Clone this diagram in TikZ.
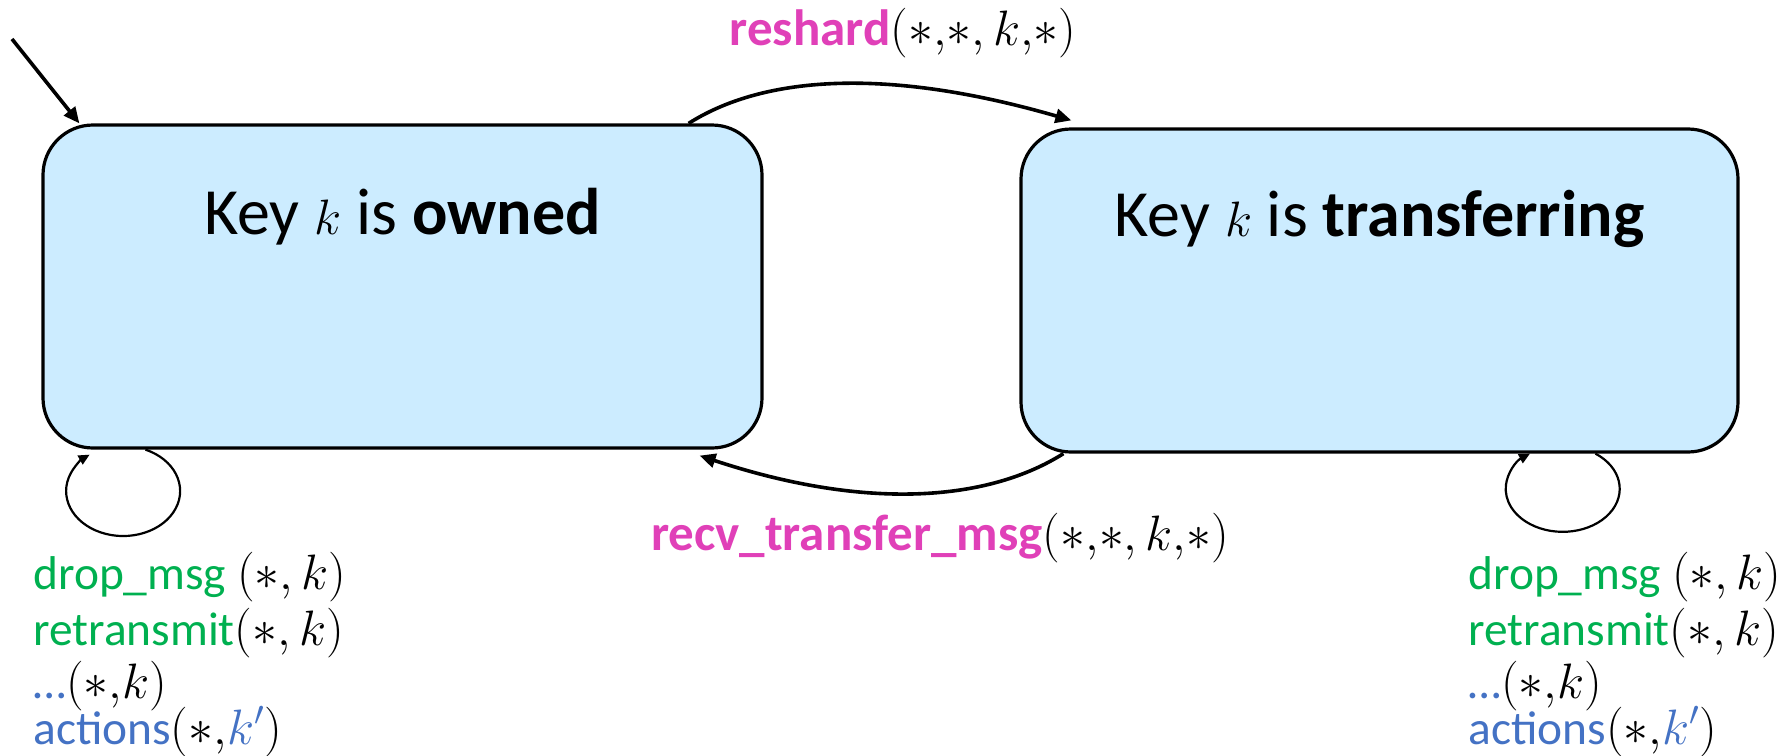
\documentclass[tikz,border=0pt]{standalone}
\usepackage{fontspec}
\setmainfont{Carlito}
\usetikzlibrary{arrows.meta}

\definecolor{statefill}{HTML}{CCECFF}
\definecolor{actpink}{HTML}{E040B8}
\definecolor{actgreen}{HTML}{00B050}
\definecolor{actblue}{HTML}{4472C4}

\tikzset{
  statebox/.style={draw=black, line width=1.6pt, fill=statefill,
    rounded corners=25pt, minimum width=#1, minimum height=161.5pt,
    inner sep=0pt},
  statetext/.style={anchor=base, font=\fontsize{33}{39}\selectfont, inner sep=0pt},
  translabel/.style={anchor=base, font=\fontsize{25.5}{30}\selectfont, inner sep=0pt},
  looplabel/.style={anchor=base west, font=\fontsize{23.7}{28}\selectfont, inner sep=0pt},
  bigarrow/.style={line width=1.8pt, -{Triangle[length=8pt,width=7pt]}},
  looparrow/.style={line width=1.1pt, -{Triangle[length=5.5pt,width=5pt]}},
}

\begin{document}
\begin{tikzpicture}[x=0.5pt, y=-0.5pt]
  \useasboundingbox (0,0) rectangle (1788,755);

  % the two states
  \node[statebox=359.5pt] (own) at (402.5,286.5) {};
  \node[statebox=358.5pt] (xfer) at (1379.5,290.5) {};
  \node[statetext] (ownlbl) at (402.5,234) {Key $k$ is \textbf{owned}};
  \node[statetext] (xferlbl) at (1379.5,236) {Key $k$ is \textbf{transferring}};

  % initial-state arrow
  \coordinate (init) at (12,39);
  \draw[bigarrow] (init) -- ([xshift=19pt]own.north west);

  % transitions between the states
  \draw[bigarrow] ([xshift=-37.5pt]own.north east)
    .. controls (760,78) and (880,65) .. ([xshift=26pt,yshift=3.5pt]xfer.north west);
  \draw[bigarrow] ([xshift=22pt]xfer.south west)
    .. controls (990,500) and (870,512) .. ([xshift=-32pt,yshift=-3pt]own.south east);

  \node[translabel] (reshard) at (903,46)
    {\textcolor{actpink}{\textbf{reshard}}$(\ast{,}\ast, k{,}\ast)$};
  \node[translabel] (recv) at (940,550)
    {\textcolor{actpink}{\textbf{recv\_transfer\_msg}}$(\ast{,}\ast, k{,}\ast)$};

  % self loops
  \draw[looparrow] ([xshift=52pt]own.south west)
    arc[start angle=-67, end angle=234, x radius=57, y radius=45];
  \draw[looparrow] ([xshift=288pt]xfer.south west)
    arc[start angle=-55, end angle=235, x radius=57, y radius=43];

  % actions that keep the state
  \node[looplabel] (ldrop) at (33,589) {\textcolor{actgreen}{drop\_msg} $(\ast, k)$};
  \node[looplabel] (lretx) at (33,645) {\textcolor{actgreen}{retransmit}$(\ast, k)$};
  \node[looplabel] (ldots) at (33,698) {\textcolor{actblue}{…}$(\ast{,}k)$};
  \node[looplabel] (lact)  at (33,744) {\textcolor{actblue}{actions}$(\ast{,}\textcolor{actblue}{k'})$};

  \node[looplabel] (rdrop) at (1468,589) {\textcolor{actgreen}{drop\_msg} $(\ast, k)$};
  \node[looplabel] (rretx) at (1468,645) {\textcolor{actgreen}{retransmit}$(\ast, k)$};
  \node[looplabel] (rdots) at (1468,698) {\textcolor{actblue}{…}$(\ast{,}k)$};
  \node[looplabel] (ract)  at (1468,744) {\textcolor{actblue}{actions}$(\ast{,}\textcolor{actblue}{k'})$};
\end{tikzpicture}
\end{document}
